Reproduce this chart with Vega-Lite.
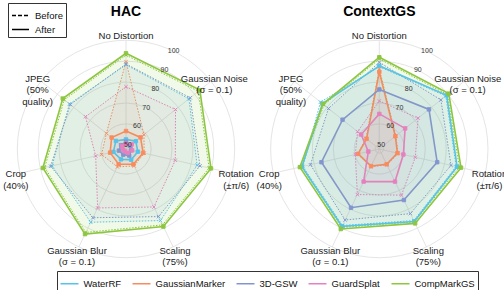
{
"$schema": "https://vega.github.io/schema/vega-lite/v6.json",
"width": 504, "height": 290, "autosize": {"type": "none"}, "padding": 0,
"background": "white",
"config": {"view": {"stroke": null}, "font": "Liberation Sans"},
"datasets": {
"panels": [{"panel": "HAC"}, {"panel": "ContextGS"}],
"rings": [
{"panel": "HAC", "tick": 50}, {"panel": "HAC", "tick": 60}, {"panel": "HAC", "tick": 70}, {"panel": "HAC", "tick": 80}, {"panel": "HAC", "tick": 90}, {"panel": "HAC", "tick": 100},
{"panel": "ContextGS", "tick": 50}, {"panel": "ContextGS", "tick": 60}, {"panel": "ContextGS", "tick": 70}, {"panel": "ContextGS", "tick": 80}, {"panel": "ContextGS", "tick": 90}, {"panel": "ContextGS", "tick": 100}],
"axes": [
{"panel": "HAC", "k": 0, "label": "No Distortion"},
{"panel": "HAC", "k": 1, "label": "Gaussian Noise\n(σ = 0.1)"},
{"panel": "HAC", "k": 2, "label": "Rotation\n(±π/6)"},
{"panel": "HAC", "k": 3, "label": "Scaling\n(75%)"},
{"panel": "HAC", "k": 4, "label": "Gaussian Blur\n(σ = 0.1)"},
{"panel": "HAC", "k": 5, "label": "Crop\n(40%)"},
{"panel": "HAC", "k": 6, "label": "JPEG\n(50%\nquality)"},
{"panel": "ContextGS", "k": 0, "label": "No Distortion"},
{"panel": "ContextGS", "k": 1, "label": "Gaussian Noise\n(σ = 0.1)"},
{"panel": "ContextGS", "k": 2, "label": "Rotation\n(±π/6)"},
{"panel": "ContextGS", "k": 3, "label": "Scaling\n(75%)"},
{"panel": "ContextGS", "k": 4, "label": "Gaussian Blur\n(σ = 0.1)"},
{"panel": "ContextGS", "k": 5, "label": "Crop\n(40%)"},
{"panel": "ContextGS", "k": 6, "label": "JPEG\n(50%\nquality)"}],
"scores": [
{"panel":"HAC","method":"WaterRF","phase":"Before","k":0,"value":88.3},
{"panel":"HAC","method":"WaterRF","phase":"Before","k":1,"value":86.5},
{"panel":"HAC","method":"WaterRF","phase":"Before","k":2,"value":82.9},
{"panel":"HAC","method":"WaterRF","phase":"Before","k":3,"value":86.0},
{"panel":"HAC","method":"WaterRF","phase":"Before","k":4,"value":86.9},
{"panel":"HAC","method":"WaterRF","phase":"Before","k":5,"value":84.3},
{"panel":"HAC","method":"WaterRF","phase":"Before","k":6,"value":82.6},
{"panel":"HAC","method":"WaterRF","phase":"After","k":0,"value":52.6},
{"panel":"HAC","method":"WaterRF","phase":"After","k":1,"value":54.0},
{"panel":"HAC","method":"WaterRF","phase":"After","k":2,"value":53.8},
{"panel":"HAC","method":"WaterRF","phase":"After","k":3,"value":53.7},
{"panel":"HAC","method":"WaterRF","phase":"After","k":4,"value":53.5},
{"panel":"HAC","method":"WaterRF","phase":"After","k":5,"value":54.2},
{"panel":"HAC","method":"WaterRF","phase":"After","k":6,"value":54.2},
{"panel":"HAC","method":"GaussianMarker","phase":"Before","k":0,"value":89.8},
{"panel":"HAC","method":"GaussianMarker","phase":"Before","k":1,"value":59.0},
{"panel":"HAC","method":"GaussianMarker","phase":"Before","k":2,"value":56.9},
{"panel":"HAC","method":"GaussianMarker","phase":"Before","k":3,"value":57.0},
{"panel":"HAC","method":"GaussianMarker","phase":"Before","k":4,"value":57.5},
{"panel":"HAC","method":"GaussianMarker","phase":"Before","k":5,"value":60.0},
{"panel":"HAC","method":"GaussianMarker","phase":"Before","k":6,"value":60.0},
{"panel":"HAC","method":"GaussianMarker","phase":"After","k":0,"value":56.6},
{"panel":"HAC","method":"GaussianMarker","phase":"After","k":1,"value":56.9},
{"panel":"HAC","method":"GaussianMarker","phase":"After","k":2,"value":56.4},
{"panel":"HAC","method":"GaussianMarker","phase":"After","k":3,"value":56.1},
{"panel":"HAC","method":"GaussianMarker","phase":"After","k":4,"value":56.1},
{"panel":"HAC","method":"GaussianMarker","phase":"After","k":5,"value":55.8},
{"panel":"HAC","method":"GaussianMarker","phase":"After","k":6,"value":56.8},
{"panel":"HAC","method":"3D-GSW","phase":"Before","k":0,"value":88.7},
{"panel":"HAC","method":"3D-GSW","phase":"Before","k":1,"value":87.3},
{"panel":"HAC","method":"3D-GSW","phase":"Before","k":2,"value":84.3},
{"panel":"HAC","method":"3D-GSW","phase":"Before","k":3,"value":83.9},
{"panel":"HAC","method":"3D-GSW","phase":"Before","k":4,"value":84.5},
{"panel":"HAC","method":"3D-GSW","phase":"Before","k":5,"value":85.0},
{"panel":"HAC","method":"3D-GSW","phase":"Before","k":6,"value":82.1},
{"panel":"HAC","method":"3D-GSW","phase":"After","k":0,"value":51.5},
{"panel":"HAC","method":"3D-GSW","phase":"After","k":1,"value":50.5},
{"panel":"HAC","method":"3D-GSW","phase":"After","k":2,"value":50.5},
{"panel":"HAC","method":"3D-GSW","phase":"After","k":3,"value":51.5},
{"panel":"HAC","method":"3D-GSW","phase":"After","k":4,"value":51.0},
{"panel":"HAC","method":"3D-GSW","phase":"After","k":5,"value":51.5},
{"panel":"HAC","method":"3D-GSW","phase":"After","k":6,"value":51.0},
{"panel":"HAC","method":"GuardSplat","phase":"Before","k":0,"value":77.8},
{"panel":"HAC","method":"GuardSplat","phase":"Before","k":1,"value":78.3},
{"panel":"HAC","method":"GuardSplat","phase":"Before","k":2,"value":72.2},
{"panel":"HAC","method":"GuardSplat","phase":"Before","k":3,"value":78.8},
{"panel":"HAC","method":"GuardSplat","phase":"Before","k":4,"value":79.3},
{"panel":"HAC","method":"GuardSplat","phase":"Before","k":5,"value":62.9},
{"panel":"HAC","method":"GuardSplat","phase":"Before","k":6,"value":72.8},
{"panel":"HAC","method":"GuardSplat","phase":"After","k":0,"value":50.5},
{"panel":"HAC","method":"GuardSplat","phase":"After","k":1,"value":51.5},
{"panel":"HAC","method":"GuardSplat","phase":"After","k":2,"value":51.0},
{"panel":"HAC","method":"GuardSplat","phase":"After","k":3,"value":50.0},
{"panel":"HAC","method":"GuardSplat","phase":"After","k":4,"value":49.3},
{"panel":"HAC","method":"GuardSplat","phase":"After","k":5,"value":49.5},
{"panel":"HAC","method":"GuardSplat","phase":"After","k":6,"value":50.3},
{"panel":"HAC","method":"CompMarkGS","phase":"Before","k":0,"value":92.9},
{"panel":"HAC","method":"CompMarkGS","phase":"Before","k":1,"value":92.3},
{"panel":"HAC","method":"CompMarkGS","phase":"Before","k":2,"value":88.8},
{"panel":"HAC","method":"CompMarkGS","phase":"Before","k":3,"value":88.3},
{"panel":"HAC","method":"CompMarkGS","phase":"Before","k":4,"value":92.3},
{"panel":"HAC","method":"CompMarkGS","phase":"Before","k":5,"value":87.9},
{"panel":"HAC","method":"CompMarkGS","phase":"Before","k":6,"value":85.8},
{"panel":"HAC","method":"CompMarkGS","phase":"After","k":0,"value":93.8},
{"panel":"HAC","method":"CompMarkGS","phase":"After","k":1,"value":93.2},
{"panel":"HAC","method":"CompMarkGS","phase":"After","k":2,"value":89.7},
{"panel":"HAC","method":"CompMarkGS","phase":"After","k":3,"value":89.2},
{"panel":"HAC","method":"CompMarkGS","phase":"After","k":4,"value":93.2},
{"panel":"HAC","method":"CompMarkGS","phase":"After","k":5,"value":88.8},
{"panel":"HAC","method":"CompMarkGS","phase":"After","k":6,"value":86.7},
{"panel":"ContextGS","method":"WaterRF","phase":"Before","k":0,"value":87.4},
{"panel":"ContextGS","method":"WaterRF","phase":"Before","k":1,"value":88.7},
{"panel":"ContextGS","method":"WaterRF","phase":"Before","k":2,"value":85.7},
{"panel":"ContextGS","method":"WaterRF","phase":"Before","k":3,"value":86.0},
{"panel":"ContextGS","method":"WaterRF","phase":"Before","k":4,"value":88.6},
{"panel":"ContextGS","method":"WaterRF","phase":"Before","k":5,"value":85.5},
{"panel":"ContextGS","method":"WaterRF","phase":"Before","k":6,"value":84.0},
{"panel":"ContextGS","method":"WaterRF","phase":"After","k":0,"value":87.8},
{"panel":"ContextGS","method":"WaterRF","phase":"After","k":1,"value":89.2},
{"panel":"ContextGS","method":"WaterRF","phase":"After","k":2,"value":86.2},
{"panel":"ContextGS","method":"WaterRF","phase":"After","k":3,"value":86.5},
{"panel":"ContextGS","method":"WaterRF","phase":"After","k":4,"value":89.1},
{"panel":"ContextGS","method":"WaterRF","phase":"After","k":5,"value":86.0},
{"panel":"ContextGS","method":"WaterRF","phase":"After","k":6,"value":82.8},
{"panel":"ContextGS","method":"GaussianMarker","phase":"Before","k":0,"value":86.3},
{"panel":"ContextGS","method":"GaussianMarker","phase":"Before","k":1,"value":58.1},
{"panel":"ContextGS","method":"GaussianMarker","phase":"Before","k":2,"value":57.2},
{"panel":"ContextGS","method":"GaussianMarker","phase":"Before","k":3,"value":56.4},
{"panel":"ContextGS","method":"GaussianMarker","phase":"Before","k":4,"value":57.4},
{"panel":"ContextGS","method":"GaussianMarker","phase":"Before","k":5,"value":58.7},
{"panel":"ContextGS","method":"GaussianMarker","phase":"Before","k":6,"value":56.1},
{"panel":"ContextGS","method":"GaussianMarker","phase":"After","k":0,"value":84.9},
{"panel":"ContextGS","method":"GaussianMarker","phase":"After","k":1,"value":57.8},
{"panel":"ContextGS","method":"GaussianMarker","phase":"After","k":2,"value":56.9},
{"panel":"ContextGS","method":"GaussianMarker","phase":"After","k":3,"value":56.1},
{"panel":"ContextGS","method":"GaussianMarker","phase":"After","k":4,"value":57.1},
{"panel":"ContextGS","method":"GaussianMarker","phase":"After","k":5,"value":58.4},
{"panel":"ContextGS","method":"GaussianMarker","phase":"After","k":6,"value":55.8},
{"panel":"ContextGS","method":"3D-GSW","phase":"Before","k":0,"value":89.5},
{"panel":"ContextGS","method":"3D-GSW","phase":"Before","k":1,"value":85.7},
{"panel":"ContextGS","method":"3D-GSW","phase":"Before","k":2,"value":83.2},
{"panel":"ContextGS","method":"3D-GSW","phase":"Before","k":3,"value":82.3},
{"panel":"ContextGS","method":"3D-GSW","phase":"Before","k":4,"value":85.7},
{"panel":"ContextGS","method":"3D-GSW","phase":"Before","k":5,"value":81.8},
{"panel":"ContextGS","method":"3D-GSW","phase":"Before","k":6,"value":79.1},
{"panel":"ContextGS","method":"3D-GSW","phase":"After","k":0,"value":76.5},
{"panel":"ContextGS","method":"3D-GSW","phase":"After","k":1,"value":78.4},
{"panel":"ContextGS","method":"3D-GSW","phase":"After","k":2,"value":76.4},
{"panel":"ContextGS","method":"3D-GSW","phase":"After","k":3,"value":75.1},
{"panel":"ContextGS","method":"3D-GSW","phase":"After","k":4,"value":79.2},
{"panel":"ContextGS","method":"3D-GSW","phase":"After","k":5,"value":76.4},
{"panel":"ContextGS","method":"3D-GSW","phase":"After","k":6,"value":70.5},
{"panel":"ContextGS","method":"GuardSplat","phase":"Before","k":0,"value":71.0},
{"panel":"ContextGS","method":"GuardSplat","phase":"Before","k":1,"value":71.7},
{"panel":"ContextGS","method":"GuardSplat","phase":"Before","k":2,"value":65.7},
{"panel":"ContextGS","method":"GuardSplat","phase":"Before","k":3,"value":72.5},
{"panel":"ContextGS","method":"GuardSplat","phase":"Before","k":4,"value":72.2},
{"panel":"ContextGS","method":"GuardSplat","phase":"Before","k":5,"value":59.8},
{"panel":"ContextGS","method":"GuardSplat","phase":"Before","k":6,"value":61.3},
{"panel":"ContextGS","method":"GuardSplat","phase":"After","k":0,"value":64.8},
{"panel":"ContextGS","method":"GuardSplat","phase":"After","k":1,"value":63.8},
{"panel":"ContextGS","method":"GuardSplat","phase":"After","k":2,"value":59.8},
{"panel":"ContextGS","method":"GuardSplat","phase":"After","k":3,"value":65.3},
{"panel":"ContextGS","method":"GuardSplat","phase":"After","k":4,"value":65.3},
{"panel":"ContextGS","method":"GuardSplat","phase":"After","k":5,"value":53.4},
{"panel":"ContextGS","method":"GuardSplat","phase":"After","k":6,"value":59.1},
{"panel":"ContextGS","method":"CompMarkGS","phase":"Before","k":0,"value":91.1},
{"panel":"ContextGS","method":"CompMarkGS","phase":"Before","k":1,"value":89.7},
{"panel":"ContextGS","method":"CompMarkGS","phase":"Before","k":2,"value":87.3},
{"panel":"ContextGS","method":"CompMarkGS","phase":"Before","k":3,"value":86.7},
{"panel":"ContextGS","method":"CompMarkGS","phase":"Before","k":4,"value":89.7},
{"panel":"ContextGS","method":"CompMarkGS","phase":"Before","k":5,"value":86.2},
{"panel":"ContextGS","method":"CompMarkGS","phase":"Before","k":6,"value":81.9},
{"panel":"ContextGS","method":"CompMarkGS","phase":"After","k":0,"value":91.9},
{"panel":"ContextGS","method":"CompMarkGS","phase":"After","k":1,"value":90.5},
{"panel":"ContextGS","method":"CompMarkGS","phase":"After","k":2,"value":88.1},
{"panel":"ContextGS","method":"CompMarkGS","phase":"After","k":3,"value":87.5},
{"panel":"ContextGS","method":"CompMarkGS","phase":"After","k":4,"value":90.5},
{"panel":"ContextGS","method":"CompMarkGS","phase":"After","k":5,"value":87.0},
{"panel":"ContextGS","method":"CompMarkGS","phase":"After","k":6,"value":82.5}
]
},
"layer": [
{
"data": {"name": "rings"},
"transform": [
{"calculate": "datum.panel === 'HAC' ? 0 : 121.2", "as": "cx"},
{"calculate": "0", "as": "cy"},
{"calculate": "pow(2 * (datum.tick - 48) * 2.09, 2)", "as": "sz"}
],
"mark": {"type": "point", "shape": "circle", "filled": false, "stroke": "#dddddd", "strokeWidth": 0.8, "opacity": 1},
"encoding": {
"x": {"field": "cx", "type": "quantitative", "scale": {"domain": [-60.29, 180.86], "nice": false, "zero": false}, "axis": null},
"y": {"field": "cy", "type": "quantitative", "scale": {"domain": [-67.46, 71.29], "nice": false, "zero": false}, "axis": null},
"size": {"field": "sz", "type": "quantitative", "scale": null}
}
},
{
"data": {"name": "axes"},
"transform": [
{"calculate": "datum.panel === 'HAC' ? 0 : 121.2", "as": "cx"},
{"calculate": "0", "as": "cy"},
{"calculate": "datum.k * 2 * PI / 7", "as": "ang"},
{"calculate": "datum.cx + 52 * sin(datum.ang)", "as": "ex"},
{"calculate": "52 * cos(datum.ang)", "as": "ey"}
],
"mark": {"type": "rule", "stroke": "#dddddd", "strokeWidth": 0.8},
"encoding": {
"x": {"field": "cx", "type": "quantitative"},
"y": {"field": "cy", "type": "quantitative"},
"x2": {"field": "ex"},
"y2": {"field": "ey"}
}
},
{
"data": {"name": "scores"},
"transform": [
{"filter": "datum.phase === 'Before'"},
{"calculate": "datum.panel === 'HAC' ? 0 : 121.2", "as": "cx"},
{"calculate": "datum.k * 2 * PI / 7", "as": "ang"},
{"calculate": "datum.cx + (datum.value - 48) * sin(datum.ang)", "as": "px"},
{"calculate": "(datum.value - 48) * cos(datum.ang)", "as": "py"}
],
"mark": {"type": "line", "interpolate": "linear-closed", "fillOpacity": 0.06, "strokeDash": [1.5, 1.5], "strokeWidth": 1},
"encoding": {
"x": {"field": "px", "type": "quantitative"},
"y": {"field": "py", "type": "quantitative"},
"order": {"field": "k", "type": "quantitative"},
"detail": {"field": "panel"},
"color": {"field": "method", "type": "nominal",
"scale": {"domain": ["WaterRF", "GaussianMarker", "3D-GSW", "GuardSplat", "CompMarkGS"], "range": ["#56c3ec", "#f98b5e", "#8295d0", "#e680c0", "#8dc63f"]},
"legend": {"orient": "none", "legendX": 57, "legendY": 271, "direction": "horizontal", "title": null, "strokeColor": "#333333", "fillColor": "white", "padding": 2.5, "symbolType": "stroke", "symbolSize": 324, "symbolStrokeWidth": 1.5, "labelFontSize": 9.5, "labelColor": "#111111", "columnPadding": 8, "labelOffset": 4,
"encode": {"symbols": {"update": {"strokeDash": {"value": [1, 0]}, "strokeWidth": {"value": 1.5}}}}}},
"fill": {"field": "method", "type": "nominal",
"scale": {"domain": ["WaterRF", "GaussianMarker", "3D-GSW", "GuardSplat", "CompMarkGS"], "range": ["#56c3ec", "#f98b5e", "#8295d0", "#e680c0", "#8dc63f"]}, "legend": null}
}
},
{
"data": {"name": "scores"},
"transform": [
{"filter": "datum.phase === 'After'"},
{"calculate": "datum.panel === 'HAC' ? 0 : 121.2", "as": "cx"},
{"calculate": "datum.k * 2 * PI / 7", "as": "ang"},
{"calculate": "datum.cx + (datum.value - 48) * sin(datum.ang)", "as": "px"},
{"calculate": "(datum.value - 48) * cos(datum.ang)", "as": "py"}
],
"mark": {"type": "line", "interpolate": "linear-closed", "fillOpacity": 0.06, "strokeWidth": 1.6},
"encoding": {
"x": {"field": "px", "type": "quantitative"},
"y": {"field": "py", "type": "quantitative"},
"order": {"field": "k", "type": "quantitative"},
"detail": {"field": "panel"},
"color": {"field": "method", "type": "nominal",
"scale": {"domain": ["WaterRF", "GaussianMarker", "3D-GSW", "GuardSplat", "CompMarkGS"], "range": ["#56c3ec", "#f98b5e", "#8295d0", "#e680c0", "#8dc63f"]},
"legend": {"orient": "none", "legendX": 57, "legendY": 271, "direction": "horizontal", "title": null, "strokeColor": "#333333", "fillColor": "white", "padding": 2.5, "symbolType": "stroke", "symbolSize": 324, "symbolStrokeWidth": 1.5, "labelFontSize": 9.5, "labelColor": "#111111", "columnPadding": 8, "labelOffset": 4,
"encode": {"symbols": {"update": {"strokeDash": {"value": [1, 0]}, "strokeWidth": {"value": 1.5}}}}}},
"fill": {"field": "method", "type": "nominal",
"scale": {"domain": ["WaterRF", "GaussianMarker", "3D-GSW", "GuardSplat", "CompMarkGS"], "range": ["#56c3ec", "#f98b5e", "#8295d0", "#e680c0", "#8dc63f"]}, "legend": null}
}
},
{
"data": {"name": "scores"},
"transform": [
{"calculate": "datum.panel === 'HAC' ? 0 : 121.2", "as": "cx"},
{"calculate": "datum.k * 2 * PI / 7", "as": "ang"},
{"calculate": "datum.cx + (datum.value - 48) * sin(datum.ang)", "as": "px"},
{"calculate": "(datum.value - 48) * cos(datum.ang)", "as": "py"}
],
"mark": {"type": "rule", "color": "black", "strokeWidth": 1.5},
"encoding": {
"x": {"field": "px", "type": "quantitative"},
"y": {"field": "py", "type": "quantitative"},
"x2": {"field": "px"},
"y2": {"field": "py"},
"strokeDash": {"field": "phase", "type": "nominal",
"scale": {"domain": ["Before", "After"], "range": [[4, 2], [1, 0]]},
"legend": {"orient": "none", "legendX": 8, "legendY": 3, "title": null, "strokeColor": "#333333", "fillColor": "white", "padding": 3, "symbolType": "stroke", "symbolSize": 289, "symbolStrokeWidth": 1.5, "symbolStrokeColor": "black", "symbolOpacity": 1, "labelFontSize": 9.5, "labelColor": "#111111", "rowPadding": -2, "labelOffset": 5}}
}
},
{
"data": {"name": "scores"},
"transform": [
{"calculate": "datum.panel === 'HAC' ? 0 : 121.2", "as": "cx"},
{"calculate": "datum.k * 2 * PI / 7", "as": "ang"},
{"calculate": "datum.cx + (datum.value - 48) * sin(datum.ang)", "as": "px"},
{"calculate": "(datum.value - 48) * cos(datum.ang)", "as": "py"},
{"calculate": "datum.phase === 'Before' ? 'cross' : 'sq'", "as": "markerKind"},
{"calculate": "datum.method", "as": "markerMethod"}
],
"mark": {"type": "point", "filled": true, "size": 12, "strokeWidth": 0.9, "opacity": 1},
"encoding": {
"x": {"field": "px", "type": "quantitative"},
"y": {"field": "py", "type": "quantitative"},
"shape": {"field": "markerKind", "type": "nominal", "scale": {"domain": ["cross", "sq"], "range": ["M-1,-1L1,1M-1,1L1,-1", "square"]}, "legend": null},
"fill": {"field": "markerMethod", "type": "nominal", "legend": null},
"stroke": {"field": "markerMethod", "type": "nominal",
"scale": {"domain": ["WaterRF", "GaussianMarker", "3D-GSW", "GuardSplat", "CompMarkGS"], "range": ["#56c3ec", "#f98b5e", "#8295d0", "#e680c0", "#8dc63f"]}, "legend": null}
}
},
{
"data": {"name": "rings"},
"transform": [
{"calculate": "datum.panel === 'HAC' ? 0 : 121.2", "as": "cx"},
{"calculate": "datum.cx + (datum.tick - 48) * sin(26 * PI / 180)", "as": "tx"},
{"calculate": "(datum.tick - 48) * cos(26 * PI / 180)", "as": "ty"}
],
"mark": {"type": "text", "fontSize": 7, "color": "#333333", "align": "center", "baseline": "middle"},
"encoding": {
"x": {"field": "tx", "type": "quantitative"},
"y": {"field": "ty", "type": "quantitative"},
"text": {"field": "tick", "type": "nominal"}
}
},
{
"data": {"name": "axes"},
"transform": [
{"calculate": "datum.panel === 'HAC' ? 0 : 121.2", "as": "cx"},
{"calculate": "datum.k * 2 * PI / 7", "as": "ang"},
{"calculate": "datum.cx + 54.07 * sin(datum.ang)", "as": "lx"},
{"calculate": "54.07 * cos(datum.ang)", "as": "ly"}
],
"mark": {"type": "text", "fontSize": 9.5, "color": "#222222", "align": "center", "baseline": "middle", "lineBreak": "\n", "lineHeight": 11.5},
"encoding": {
"x": {"field": "lx", "type": "quantitative"},
"y": {"field": "ly", "type": "quantitative"},
"text": {"field": "label", "type": "nominal"}
}
},
{
"data": {"name": "panels"},
"transform": [
{"calculate": "datum.panel === 'HAC' ? 0 : 121.2", "as": "cx"},
{"calculate": "65.4", "as": "ty"}
],
"mark": {"type": "text", "fontSize": 14, "fontWeight": "bold", "color": "black", "align": "center", "baseline": "middle"},
"encoding": {
"x": {"field": "cx", "type": "quantitative"},
"y": {"field": "ty", "type": "quantitative"},
"text": {"field": "panel", "type": "nominal"}
}
}
]
}
